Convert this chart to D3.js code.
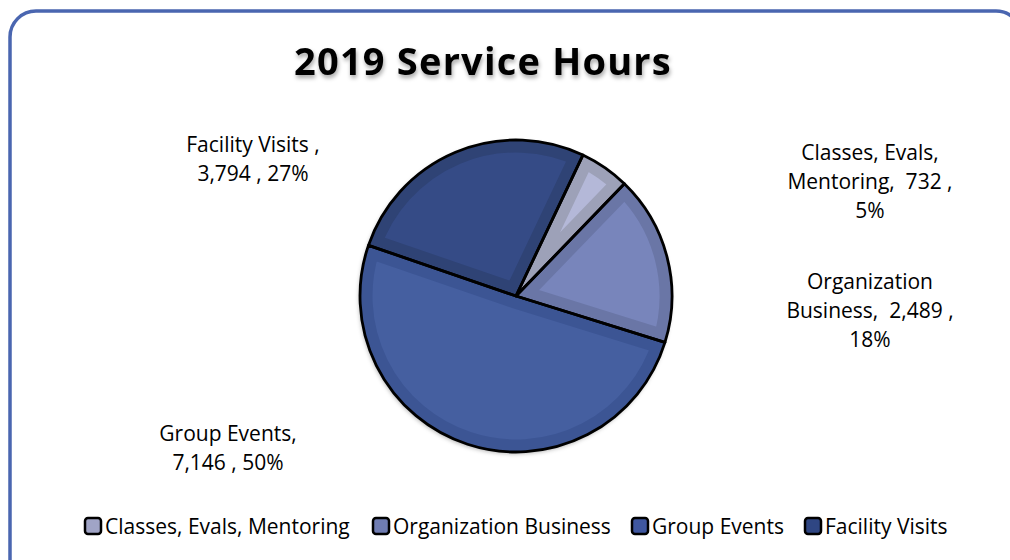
<!DOCTYPE html>
<html>
<head>
<meta charset="utf-8">
<script src="https://cdn.jsdelivr.net/npm/d3@7"></script>
<style>
  html, body { margin: 0; padding: 0; background: #fff; }
  svg { display: block; }
  text { white-space: pre; }
</style>
</head>
<body>
<svg id="chart" width="1010" height="560"></svg>
<script>
const categories = ["Classes, Evals, Mentoring", "Organization Business", "Group Events", "Facility Visits"];
const hours = [732, 2489, 7146, 3794];
const percentLabels = ["5%", "18%", "50%", "27%"];
const dataLabelLines = [
  ["Classes, Evals,", "Mentoring,  732 ,", "5%"],
  ["Organization", "Business,  2,489 ,", "18%"],
  ["Group Events,", "7,146 , 50%"],
  ["Facility Visits ,", "3,794 , 27%"]
];
const rimColors = ["#9da1b8", "#6a76a6", "#3c5594", "#2f4375"];
const innerColors = ["#b4b8d8", "#7885bb", "#455fa0", "#354b86"];
const legendColors = ["#a0a4c6", "#6f7cb2", "#3f57a0", "#2f4683"];

const svg = d3.select("#chart");
const font = "'Open Sans', sans-serif";

const defs = svg.append("defs");
const ts = defs.append("filter").attr("id", "tshadow").attr("x", "-10%").attr("y", "-30%").attr("width", "120%").attr("height", "180%");
ts.append("feDropShadow").attr("dx", 1).attr("dy", 3).attr("stdDeviation", 2).attr("flood-color", "#000").attr("flood-opacity", 0.35);
const ps = defs.append("filter").attr("id", "pshadow").attr("x", "-20%").attr("y", "-20%").attr("width", "140%").attr("height", "140%");
ps.append("feDropShadow").attr("dx", -1).attr("dy", 2).attr("stdDeviation", 2).attr("flood-color", "#000").attr("flood-opacity", 0.3);

// Frame
svg.append("rect")
  .attr("x", 10).attr("y", 11).attr("width", 1012).attr("height", 580)
  .attr("rx", 26).attr("ry", 26)
  .attr("fill", "#fff").attr("stroke", "#4a66b0").attr("stroke-width", 3.5);

// Title
svg.append("text")
  .attr("x", 483).attr("y", 75)
  .attr("text-anchor", "middle")
  .attr("font-family", font).attr("font-weight", "bold")
  .attr("font-size", 38).attr("letter-spacing", 1.2)
  .attr("fill", "#000").attr("filter", "url(#tshadow)")
  .text("2019 Service Hours");

// Pie
const cx = 516, cy = 296, R = 156;
const a0 = 25.4 * Math.PI / 180;
const pie = d3.pie().sort(null).value(d => d).startAngle(a0).endAngle(a0 + 2 * Math.PI);
const arcs = pie(hours);
const arc = d3.arc().innerRadius(0).outerRadius(R);

svg.append("circle").attr("cx", cx).attr("cy", cy).attr("r", R).attr("fill", "#333").attr("filter", "url(#pshadow)");

arcs.forEach((a, i) => {
  const id = "clip" + i;
  defs.append("clipPath").attr("id", id).append("path").attr("d", arc(a)).attr("transform", `translate(${cx},${cy})`);
  const sg = svg.append("g").attr("clip-path", `url(#${id})`).append("g").attr("transform", `translate(${cx},${cy})`);
  sg.append("path").attr("d", arc(a))
    .attr("fill", innerColors[i])
    .attr("stroke", rimColors[i]).attr("stroke-width", 25).attr("stroke-linejoin", "miter");
});
const g = svg.append("g").attr("transform", `translate(${cx},${cy})`);
arcs.forEach((a, i) => {
  g.append("path").attr("d", arc(a))
    .attr("fill", "none").attr("stroke", "#000").attr("stroke-width", 2.8).attr("stroke-linejoin", "round");
});

// Data labels
const labelPos = [[870, 153], [870, 282], [228, 434], [253, 145]];
const lineH = 29;
dataLabelLines.forEach((lines, i) => {
  const t = svg.append("text")
    .attr("text-anchor", "middle")
    .attr("font-family", font).attr("font-size", 21).attr("fill", "#000");
  lines.forEach((ln, j) => {
    t.append("tspan").attr("x", labelPos[i][0]).attr("y", labelPos[i][1] + j * lineH + 7).text(ln);
  });
});

// Legend
const legendX = [85, 373, 632, 805];
const ly = 526;
categories.forEach((c, i) => {
  svg.append("rect")
    .attr("x", legendX[i]).attr("y", ly - 8).attr("width", 16).attr("height", 16)
    .attr("rx", 3).attr("ry", 3)
    .attr("fill", legendColors[i]).attr("stroke", "#000").attr("stroke-width", 2.5);
  svg.append("text")
    .attr("x", legendX[i] + 20).attr("y", ly + 7.5)
    .attr("font-family", font).attr("font-size", 21).attr("fill", "#000")
    .text(c);
});
</script>
</body>
</html>
